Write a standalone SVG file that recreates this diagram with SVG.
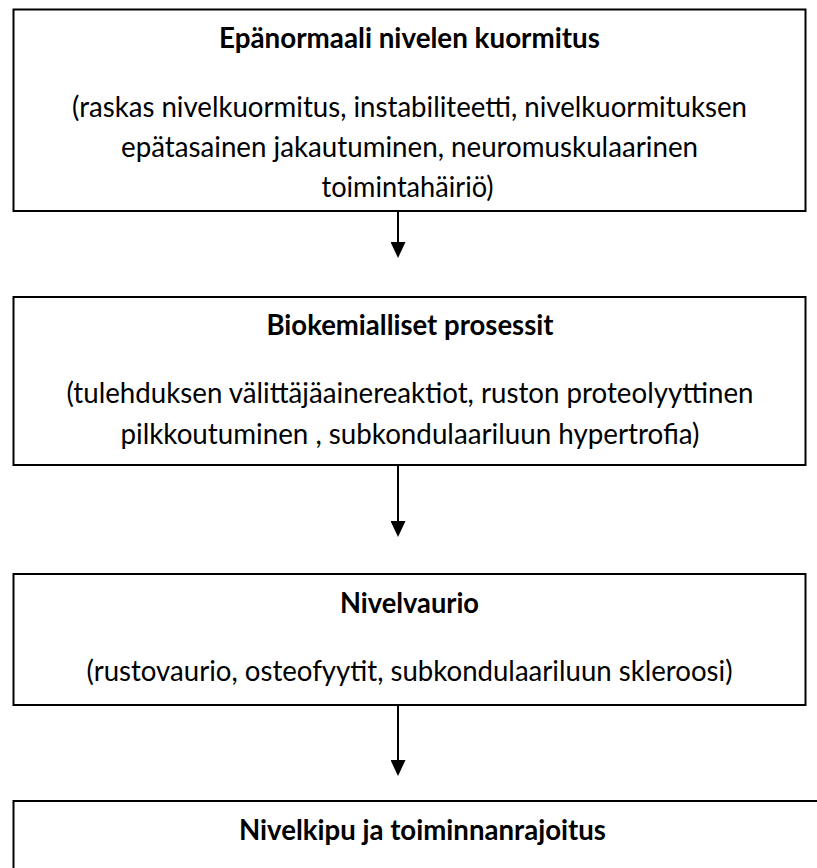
<svg xmlns="http://www.w3.org/2000/svg" width="817" height="868" viewBox="0 0 817 868">
  <style>
    .box { fill: #ffffff; stroke: #000000; stroke-width: 2; }
    .t { font-family: Lato, "Open Sans", "Liberation Sans", sans-serif; font-size: 28px; fill: #000000; text-anchor: middle; }
    .b { font-weight: 700; }
    .conn { stroke: #000000; stroke-width: 2; fill: none; }
  </style>
  <defs>
    <marker id="arrow" markerUnits="userSpaceOnUse" markerWidth="16" markerHeight="15" refX="12" refY="7.5" orient="auto">
      <path d="M0,0 L16,7.5 L0,15 Z" fill="#000000"/>
    </marker>
  </defs>
  <rect width="817" height="868" fill="#ffffff"/>

  <g id="node1">
    <rect class="box" x="13.5" y="9.5" width="792" height="201.5"/>
    <text class="t b" x="409.5" y="48" textLength="381" lengthAdjust="spacingAndGlyphs">Epänormaali nivelen kuormitus</text>
    <text class="t" x="409.5" y="117" textLength="675" lengthAdjust="spacingAndGlyphs">(raskas nivelkuormitus, instabiliteetti, nivelkuormituksen</text>
    <text class="t" x="409.5" y="157" textLength="577" lengthAdjust="spacingAndGlyphs">epätasainen jakautuminen, neuromuskulaarinen</text>
    <text class="t" x="407.5" y="197" textLength="172" lengthAdjust="spacingAndGlyphs">toimintahäiriö)</text>
  </g>

  <g id="node2">
    <rect class="box" x="13.5" y="297" width="792" height="168"/>
    <text class="t b" x="410" y="335" textLength="287" lengthAdjust="spacingAndGlyphs">Biokemialliset prosessit</text>
    <text class="t" x="410" y="403" textLength="687" lengthAdjust="spacingAndGlyphs">(tulehduksen välittäjäainereaktiot, ruston proteolyyttinen</text>
    <text class="t" x="410" y="444" textLength="579" lengthAdjust="spacingAndGlyphs">pilkkoutuminen , subkondulaariluun hypertrofia)</text>
  </g>

  <g id="node3">
    <rect class="box" x="13.5" y="574" width="792" height="131"/>
    <text class="t b" x="409.5" y="613" textLength="139" lengthAdjust="spacingAndGlyphs">Nivelvaurio</text>
    <text class="t" x="409.5" y="681" textLength="646" lengthAdjust="spacingAndGlyphs">(rustovaurio, osteofyytit, subkondulaariluun skleroosi)</text>
  </g>

  <g id="node4">
    <rect class="box" x="13.5" y="801" width="818" height="120"/>
    <text class="t b" x="422.5" y="840" textLength="367" lengthAdjust="spacingAndGlyphs">Nivelkipu ja toiminnanrajoitus</text>
  </g>

  <g id="connectors">
    <line class="conn" x1="398" y1="211" x2="398" y2="254" marker-end="url(#arrow)"/>
    <line class="conn" x1="398" y1="465" x2="398" y2="533" marker-end="url(#arrow)"/>
    <line class="conn" x1="398" y1="705" x2="398" y2="772" marker-end="url(#arrow)"/>
  </g>
</svg>
